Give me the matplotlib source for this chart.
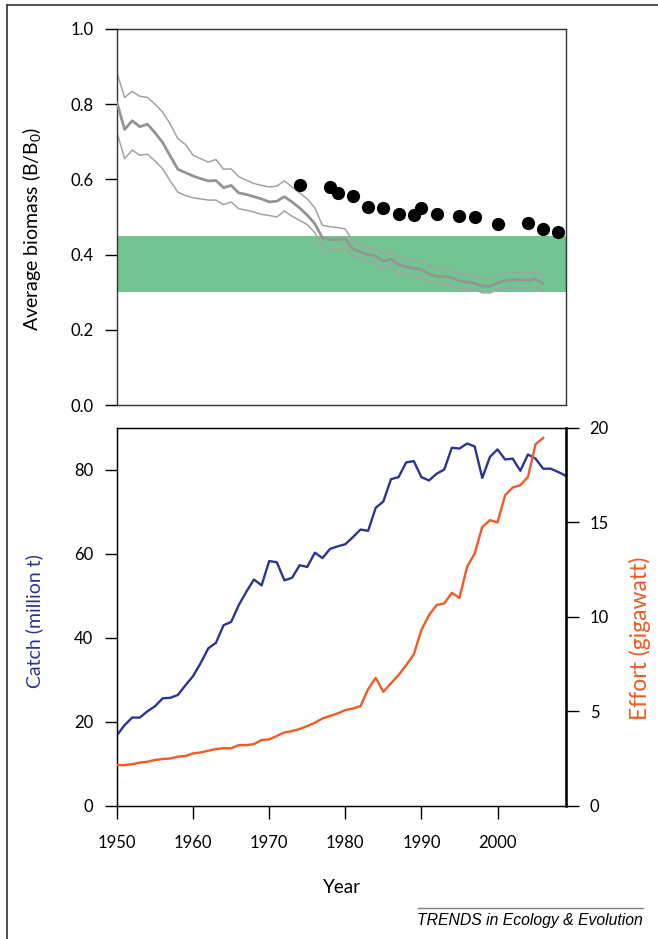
import matplotlib
matplotlib.use("Agg")
import matplotlib.pyplot as plt
from matplotlib.lines import Line2D
import numpy as np

plt.rcParams['font.family'] = ['Lato', 'DejaVu Sans']
plt.rcParams['mathtext.fontset'] = 'custom'
plt.rcParams['mathtext.rm'] = 'Lato'

# ---------------- data: top panel ----------------
years_model = list(range(1950, 2007))
biomass_mean = [0.804, 0.733, 0.756, 0.740, 0.747, 0.724, 0.698, 0.662, 0.627, 0.618,
                0.609, 0.602, 0.596, 0.597, 0.578, 0.584, 0.564, 0.560, 0.554, 0.548,
                0.540, 0.542, 0.554, 0.540, 0.524, 0.505, 0.482, 0.444, 0.440, 0.440,
                0.442, 0.415, 0.407, 0.400, 0.396, 0.382, 0.388, 0.373, 0.367, 0.364,
                0.360, 0.349, 0.342, 0.342, 0.338, 0.331, 0.326, 0.324, 0.316, 0.316,
                0.324, 0.331, 0.333, 0.333, 0.331, 0.335, 0.323]
biomass_upper = [0.883, 0.818, 0.834, 0.821, 0.818, 0.800, 0.779, 0.747, 0.708, 0.693,
                 0.664, 0.655, 0.646, 0.653, 0.627, 0.628, 0.607, 0.598, 0.589, 0.584,
                 0.580, 0.582, 0.596, 0.580, 0.564, 0.548, 0.524, 0.478, 0.474, 0.472,
                 0.468, 0.436, 0.427, 0.418, 0.415, 0.403, 0.409, 0.394, 0.388, 0.385,
                 0.382, 0.371, 0.360, 0.360, 0.355, 0.349, 0.347, 0.344, 0.335, 0.335,
                 0.344, 0.351, 0.353, 0.351, 0.351, 0.355, 0.344]
biomass_lower = [0.724, 0.655, 0.678, 0.664, 0.667, 0.649, 0.628, 0.596, 0.566, 0.557,
                 0.551, 0.548, 0.545, 0.545, 0.533, 0.540, 0.522, 0.518, 0.513, 0.507,
                 0.504, 0.500, 0.516, 0.502, 0.491, 0.480, 0.458, 0.422, 0.413, 0.415,
                 0.418, 0.394, 0.389, 0.382, 0.378, 0.364, 0.373, 0.351, 0.347, 0.342,
                 0.338, 0.329, 0.323, 0.320, 0.317, 0.311, 0.309, 0.307, 0.298, 0.298,
                 0.307, 0.311, 0.311, 0.311, 0.311, 0.314, 0.302]

years_assess = [1974, 1978, 1979, 1981, 1983, 1985, 1987, 1989, 1990, 1992,
                1995, 1997, 2000, 2004, 2006, 2008]
biomass_assess = [0.585, 0.580, 0.563, 0.557, 0.527, 0.523, 0.509, 0.504, 0.523, 0.508,
                  0.502, 0.500, 0.482, 0.484, 0.467, 0.460]

band_low, band_high = 0.30, 0.45

# ---------------- data: bottom panel ----------------
years_catch = list(range(1950, 2010))
catch = [16.8, 19.2, 21.0, 21.0, 22.5, 23.7, 25.6, 25.7, 26.4, 28.7,
         30.9, 34.0, 37.5, 38.8, 43.0, 43.8, 47.8, 51.0, 53.9, 52.5,
         58.3, 58.0, 53.7, 54.3, 57.3, 56.9, 60.3, 59.0, 61.2, 61.8,
         62.3, 64.0, 65.8, 65.5, 71.0, 72.5, 77.8, 78.3, 81.8, 82.1,
         78.3, 77.5, 79.1, 80.1, 85.3, 85.1, 86.3, 85.6, 78.1, 83.1,
         84.9, 82.5, 82.7, 79.8, 83.7, 82.7, 80.3, 80.3, 79.5, 78.6]

years_effort = list(range(1950, 2007))
effort = [2.15, 2.15, 2.20, 2.28, 2.33, 2.42, 2.47, 2.50, 2.60, 2.63,
          2.77, 2.82, 2.91, 3.00, 3.04, 3.04, 3.21, 3.21, 3.26, 3.48,
          3.51, 3.69, 3.88, 3.95, 4.06, 4.22, 4.39, 4.62, 4.75, 4.89,
          5.06, 5.15, 5.27, 6.17, 6.77, 6.03, 6.48, 6.92, 7.44, 8.01,
          9.30, 10.09, 10.62, 10.71, 11.27, 11.00, 12.65, 13.35, 14.76, 15.12,
          15.00, 16.44, 16.85, 16.97, 17.41, 19.14, 19.47]

x_ticks = [1950, 1960, 1970, 1980, 1990, 2000]

BLUE = '#2b3592'
ORANGE = '#f15a24'
GREEN = '#72c593'

fig = plt.figure(figsize=(6.58, 9.39), dpi=100)

L, W = 117 / 658, 449 / 658
ax1 = fig.add_axes([L, 1 - 405 / 939, W, (405 - 29) / 939])
ax2 = fig.add_axes([L, 1 - 805.7 / 939, W, (805.7 - 428) / 939])

# ----- top panel -----
ax1.axhspan(band_low, band_high, color=GREEN, lw=0, zorder=1)
ax1.plot(years_model, biomass_upper, color='#a3a3a3', lw=1.1, zorder=2)
ax1.plot(years_model, biomass_lower, color='#a3a3a3', lw=1.1, zorder=2)
ax1.plot(years_model, biomass_mean, color='#949494', lw=2.0, zorder=3)
ax1.plot(years_assess, biomass_assess, 'o', color='black', ms=8.5, zorder=4)
ax1.set_xlim(1950, 2009)
ax1.set_ylim(0, 1.0)
ax1.set_yticks([0.0, 0.2, 0.4, 0.6, 0.8, 1.0])
ax1.set_yticklabels(['0.0', '0.2', '0.4', '0.6', '0.8', '1.0'])
ax1.set_xticks([])
ax1.tick_params(axis='y', direction='out', length=9, width=1.0, pad=8, labelsize=12)
ax1.set_ylabel('Average biomass (B/B$_\\mathregular{0}$)', fontsize=14)
ax1.yaxis.set_label_coords(-0.163, 0.468)
for s in ax1.spines.values():
    s.set_linewidth(1.0)
    s.set_color('#333333')

# ----- bottom panel -----
ax2.plot(years_catch, catch, color=BLUE, lw=1.7, zorder=3)
ax2.set_xlim(1950, 2009)
ax2.set_ylim(0, 90)
ax2.set_yticks([0, 20, 40, 60, 80])
ax2.set_xticks(x_ticks)
ax2.tick_params(axis='both', direction='out', length=9, width=1.0, labelsize=12)
ax2.tick_params(axis='y', pad=8)
ax2.tick_params(axis='x', pad=12)
ax2.set_ylabel('Catch (million t)', color=BLUE, fontsize=14)
ax2.yaxis.set_label_coords(-0.165, 0.488)
ax2.set_xlabel('Year', fontsize=13.5, labelpad=20)
for s in ax2.spines.values():
    s.set_linewidth(1.0)

ax3 = ax2.twinx()
ax3.plot(years_effort, effort, color=ORANGE, lw=1.7, zorder=3)
ax3.set_ylim(0, 20)
ax3.set_yticks([0, 5, 10, 15, 20])
ax3.tick_params(axis='y', direction='out', length=9, width=1.0, pad=8, labelsize=12)
ax3.spines['right'].set_linewidth(1.8)
ax3.set_ylabel('Effort (gigawatt)', color=ORANGE, fontsize=16.5)
ax3.yaxis.set_label_coords(1.14, 0.444)

# ----- frame and footer -----
fig.add_artist(Line2D([7 / 658, 7 / 658], [0, 1 - 5 / 939], transform=fig.transFigure,
                      color='#333333', lw=1.2))
fig.add_artist(Line2D([7 / 658, 1], [1 - 5 / 939, 1 - 5 / 939], transform=fig.transFigure,
                      color='#333333', lw=1.2))
fig.add_artist(Line2D([418 / 658, 643 / 658], [1 - 908 / 939, 1 - 908 / 939],
                      transform=fig.transFigure, color='#808080', lw=1.0))
fig.text(643 / 658, 1 - 920 / 939, 'TRENDS in Ecology & Evolution', ha='right', va='center',
         fontsize=11.3, style='italic', family=['Liberation Sans', 'DejaVu Sans'])

fig.savefig('out.png', dpi=100)
